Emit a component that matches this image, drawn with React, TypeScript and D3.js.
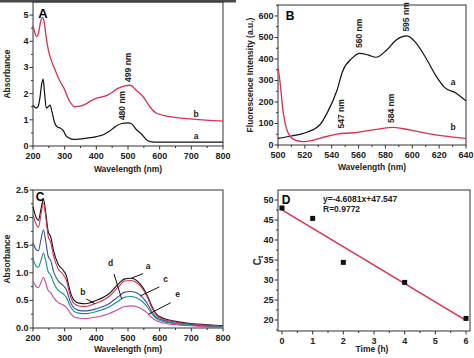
import { scaleLinear, line, curveMonotoneX, range } from "d3";

// Panel A – UV-vis absorbance
const nmA_a = [200, 210, 216, 222, 228, 232, 236, 242, 248, 254, 260, 268, 278, 286, 295, 305, 315, 327, 345, 370, 400, 420, 440, 460, 480, 500, 510, 527, 543, 559, 575, 590, 700, 800];
const absA_a = [1.55, 1.45, 1.5, 1.85, 2.4, 2.56, 2.1, 1.45, 1.5, 1.56, 1.3, 0.9, 0.72, 0.69, 0.6, 0.38, 0.3, 0.25, 0.26, 0.3, 0.36, 0.42, 0.55, 0.74, 0.86, 0.88, 0.86, 0.62, 0.45, 0.23, 0.16, 0.15, 0.15, 0.15];
const nmA_b = [200, 205, 212, 218, 224, 230, 235, 241, 248, 257, 270, 284, 298, 316, 332, 352, 395, 437, 468, 490, 508, 525, 548, 569, 590, 632, 705, 800];
const absA_b = [4.6, 4.35, 4.18, 4.35, 4.75, 4.9, 4.75, 4.2, 3.7, 3.3, 2.9, 2.5, 2.2, 1.7, 1.5, 1.53, 1.8, 1.95, 2.2, 2.3, 2.32, 2.14, 1.88, 1.5, 1.25, 1.12, 1.03, 0.95];

// Panel B – fluorescence
const nmB_a = [500, 510, 519, 531, 537, 544, 548, 555, 561, 567, 573, 581, 588, 596, 603, 611, 618, 624, 633, 640];
const flB_a = [31, 42, 54, 93, 154, 256, 341, 403, 426, 419, 408, 442, 488, 507, 473, 395, 318, 268, 240, 205];
const nmB_b = [500, 501, 504, 507.7, 512.7, 519, 531, 544, 556, 567, 573.5, 586, 598, 611, 623, 640];
const flB_b = [355, 318, 147, 54, 23, 16, 31, 51, 57, 67, 73, 82, 70, 54, 42, 30];

// Panel C – absorbance over time
const nmC = [200, 210, 217, 225, 233, 240, 248, 256, 265, 280, 295, 305, 318, 330, 345, 365, 400, 440, 470, 490, 510, 530, 545, 560, 575, 590, 610, 650, 700, 750, 800];
const absC_a = [2.2, 2.0, 1.95, 2.15, 2.33, 2.1, 1.75, 1.65, 1.4, 1.15, 1.05, 0.95, 0.65, 0.5, 0.45, 0.44, 0.5, 0.62, 0.8, 0.89, 0.9, 0.85, 0.75, 0.6, 0.4, 0.25, 0.18, 0.12, 0.08, 0.06, 0.04];
const absC_b = [2.05, 1.88, 1.82, 2.05, 2.27, 2.02, 1.66, 1.55, 1.3, 1.07, 0.97, 0.87, 0.58, 0.44, 0.4, 0.39, 0.45, 0.57, 0.75, 0.85, 0.86, 0.81, 0.72, 0.57, 0.37, 0.23, 0.16, 0.11, 0.07, 0.05, 0.03];
const absC_c = [1.55, 1.42, 1.4, 1.6, 1.78, 1.58, 1.3, 1.22, 1.02, 0.85, 0.77, 0.7, 0.47, 0.36, 0.32, 0.31, 0.35, 0.44, 0.57, 0.65, 0.66, 0.63, 0.56, 0.45, 0.3, 0.19, 0.14, 0.09, 0.06, 0.04, 0.02];
const absC_d = [1.25, 1.12, 1.1, 1.22, 1.36, 1.22, 1.02, 0.96, 0.82, 0.68, 0.62, 0.56, 0.39, 0.3, 0.27, 0.26, 0.3, 0.38, 0.49, 0.56, 0.57, 0.54, 0.48, 0.39, 0.26, 0.17, 0.12, 0.08, 0.05, 0.03, 0.02];
const absC_e = [0.85, 0.75, 0.73, 0.82, 0.92, 0.82, 0.68, 0.64, 0.55, 0.46, 0.42, 0.38, 0.27, 0.2, 0.18, 0.17, 0.2, 0.26, 0.34, 0.39, 0.4, 0.38, 0.34, 0.28, 0.19, 0.13, 0.09, 0.06, 0.04, 0.02, 0.01];
const seriesC = ["a", "b", "c", "d", "e"];
const arrowNmC = [510, 395, 540, 480, 565];

// Panel D – C_t vs time
const timeD = [0, 1, 2, 4, 6];
const ctD = [48, 45.4, 34.4, 29.4, 20.4];
const slope = -4.6081;
const intercept = 47.547;

const RED = "#dc2f4f";
const colorsC = ["#111", "#d9304a", "#3a4ea6", "#15918a", "#c54aa3"];
const FONT = "'Liberation Sans', Arial, sans-serif";

type Box = { l: number; r: number; t: number; b: number };

function Frame({ box, x, y, xTicks, yTicks, xMinor, yMinor, fmtY }: any) {
  return (
    <g fontFamily={FONT} fontSize={9} fontWeight="bold" fill="#222">
      <rect x={box.l} y={box.t} width={box.r - box.l} height={box.b - box.t} fill="none" stroke="#333" strokeWidth={1} />
      {xMinor.map((v: number) => (
        <line key={"xm" + v} x1={x(v)} x2={x(v)} y1={box.b} y2={box.b + 2} stroke="#333" />
      ))}
      {yMinor.map((v: number) => (
        <line key={"ym" + v} x1={box.l - 2} x2={box.l} y1={y(v)} y2={y(v)} stroke="#333" />
      ))}
      {xTicks.map((v: number) => (
        <g key={"x" + v}>
          <line x1={x(v)} x2={x(v)} y1={box.b} y2={box.b + 3.5} stroke="#333" />
          <text x={x(v)} y={box.b + 12.5} textAnchor="middle">{v}</text>
        </g>
      ))}
      {yTicks.map((v: number) => (
        <g key={"y" + v}>
          <line x1={box.l - 3.5} x2={box.l} y1={y(v)} y2={y(v)} stroke="#333" />
          <text x={box.l - 4.5} y={y(v) + 3} textAnchor="end">{fmtY ? fmtY(v) : v}</text>
        </g>
      ))}
    </g>
  );
}

function VLabel({ x, y, text }: { x: number; y: number; text: string }) {
  return (
    <text transform={`translate(${x},${y}) rotate(-90)`} textAnchor="middle" dominantBaseline="central"
      fontFamily={FONT} fontSize={8.5} fontWeight="bold" fill="#222">{text}</text>
  );
}

function interp(xs: number[], ys: number[], v: number) {
  for (let i = 0; i < xs.length - 1; i++) {
    if (v >= xs[i] && v <= xs[i + 1]) {
      const f = (v - xs[i]) / (xs[i + 1] - xs[i]);
      return ys[i] + f * (ys[i + 1] - ys[i]);
    }
  }
  return ys[ys.length - 1];
}

export default function App() {
  // ---- A
  const bA: Box = { l: 33, r: 223, t: 2, b: 146 };
  const xA = scaleLinear().domain([200, 800]).range([bA.l, bA.r]);
  const yA = scaleLinear().domain([0, 5.5]).range([bA.b, bA.t]);
  const lA = (xs: number[], ys: number[]) =>
    line<number>().x((_, i) => xA(xs[i])).y((d) => yA(d)).curve(curveMonotoneX)(ys) || "";

  // ---- B
  const bB: Box = { l: 278, r: 466, t: 5, b: 145 };
  const xB = scaleLinear().domain([500, 640]).range([bB.l, bB.r]);
  const yB = scaleLinear().domain([0, 651]).range([bB.b, bB.t]);
  const lB = (xs: number[], ys: number[]) =>
    line<number>().x((_, i) => xB(xs[i])).y((d) => yB(d)).curve(curveMonotoneX)(ys) || "";

  // ---- C
  const bC: Box = { l: 33, r: 223, t: 190, b: 328 };
  const xC = scaleLinear().domain([200, 800]).range([bC.l, bC.r]);
  const yC = scaleLinear().domain([0, 2.5]).range([bC.b, bC.t]);
  const lC = line<number>().x((_, i) => xC(nmC[i])).y((d) => yC(d)).curve(curveMonotoneX);
  const dataC = [absC_a, absC_b, absC_c, absC_d, absC_e];
  const labelOffC = [[14, -9], [-10, -9], [22, -14], [-9, -33], [26, -17]];

  // ---- D
  const bD: Box = { l: 278, r: 470, t: 190, b: 331 };
  const xD = scaleLinear().domain([-0.13, 6.13]).range([bD.l, bD.r]);
  const yD = scaleLinear().domain([17.25, 52.5]).range([bD.b, bD.t]);

  const ann = { fontFamily: FONT, fontSize: 8.5, fontWeight: "bold", fill: "#222" } as const;

  return (
    <svg width={474} height={358} style={{ position: "absolute", left: 0, top: 0, background: "#fff" }}>
      {/* crop edge band above panel A */}
      <rect x={0} y={0} width={236} height={2.5} fill="#4a4a4a" />

      {/* Panel A */}
      <Frame box={bA} x={xA} y={yA} xTicks={range(200, 801, 100)} yTicks={range(0, 6)}
        xMinor={range(250, 800, 100)} yMinor={range(0.5, 5.5, 1)} />
      <path d={lA(nmA_b, absA_b)} fill="none" stroke={RED} strokeWidth={1.3} />
      <path d={lA(nmA_a, absA_a)} fill="none" stroke="#111" strokeWidth={1.2} />
      <text x={43} y={18} textAnchor="middle" fontFamily={FONT} fontSize={13} fontWeight="bold">A</text>
      <VLabel x={xA(480)} y={yA(0.86) - 18} text="480 nm" />
      <VLabel x={xA(499)} y={yA(2.32) - 18} text="499 nm" />
      <text x={196} y={117} textAnchor="middle" {...ann}>b</text>
      <text x={196} y={139} textAnchor="middle" {...ann}>a</text>
      <VLabel x={7} y={(bA.t + bA.b) / 2} text="Absorbance" />
      <text x={(bA.l + bA.r) / 2} y={172} textAnchor="middle" {...ann}>Wavelength (nm)</text>

      {/* Panel B */}
      <Frame box={bB} x={xB} y={yB} xTicks={range(500, 641, 20)} yTicks={range(0, 601, 100)}
        xMinor={range(510, 640, 20)} yMinor={range(50, 651, 100)} />
      <path d={lB(nmB_a, flB_a)} fill="none" stroke="#111" strokeWidth={1.2} />
      <path d={lB(nmB_b, flB_b)} fill="none" stroke={RED} strokeWidth={1.3} />
      <text x={290} y={20} textAnchor="middle" fontFamily={FONT} fontSize={12} fontWeight="bold">B</text>
      <VLabel x={xB(560)} y={yB(426) - 20} text="560 nm" />
      <VLabel x={xB(595)} y={yB(507) - 19} text="595 nm" />
      <VLabel x={xB(547)} y={yB(52) - 20} text="547 nm" />
      <VLabel x={xB(584)} y={yB(82) - 19} text="584 nm" />
      <text x={453} y={85} textAnchor="middle" {...ann}>a</text>
      <text x={453} y={130} textAnchor="middle" {...ann}>b</text>
      <VLabel x={250} y={(bB.t + bB.b) / 2} text="Fluorescence Intensity (a.u.)" />
      <text x={(bB.l + bB.r) / 2} y={170} textAnchor="middle" {...ann}>Wavelength (nm)</text>

      {/* Panel C */}
      <Frame box={bC} x={xC} y={yC} xTicks={range(200, 801, 100)} yTicks={range(0, 2.51, 0.5)}
        xMinor={range(250, 800, 100)} yMinor={range(0.25, 2.5, 0.5)} fmtY={(v: number) => v.toFixed(1)} />
      {dataC.map((d, i) => (
        <path key={i} d={lC(d) || ""} fill="none" stroke={colorsC[i]} strokeWidth={1.1} />
      ))}
      {seriesC.map((s, i) => {
        const tx = xC(arrowNmC[i]);
        const ty = yC(interp(nmC, dataC[i], arrowNmC[i]));
        const [dx, dy] = labelOffC[i];
        return (
          <g key={s}>
            <line x1={tx} y1={ty} x2={tx + dx * 0.85} y2={ty + dy * 0.85 + 3} stroke="#111" strokeWidth={1} />
            <text x={tx + dx + (dx > 0 ? 3 : -2)} y={ty + dy} textAnchor="middle" {...ann}>{s}</text>
          </g>
        );
      })}
      <text x={40} y={201} textAnchor="middle" fontFamily={FONT} fontSize={12} fontWeight="bold">C</text>
      <VLabel x={7} y={(bC.t + bC.b) / 2} text="Absorbance" />
      <text x={(bC.l + bC.r) / 2} y={352} textAnchor="middle" {...ann}>Wavelength (nm)</text>

      {/* Panel D */}
      <Frame box={bD} x={xD} y={yD} xTicks={range(0, 7)} yTicks={range(20, 51, 5)}
        xMinor={range(0.5, 6.1, 1)} yMinor={range(17.5, 52.5, 5)} />
      <line x1={xD(0)} y1={yD(intercept)} x2={xD(6)} y2={yD(intercept + slope * 6)} stroke={RED} strokeWidth={1.5} />
      {timeD.map((t, i) => (
        <rect key={t} x={xD(t) - 2.5} y={yD(ctD[i]) - 2.5} width={5} height={5} fill="#111" />
      ))}
      <text x={286} y={204} textAnchor="middle" fontFamily={FONT} fontSize={12} fontWeight="bold">D</text>
      <text x={323} y={202} {...ann}>y=-4.6081x+47.547</text>
      <text x={323} y={212} {...ann}>R=0.9772</text>
      <text transform={`translate(257,${(bD.t + bD.b) / 2}) rotate(-90)`} textAnchor="middle" dominantBaseline="central"
        fontFamily={FONT} fontSize={10} fontWeight="bold" fill="#222">
        C<tspan fontSize={7} dy={2.5}>t</tspan>
      </text>
      <text x={372} y={352} textAnchor="middle" {...ann}>Time (h)</text>
    </svg>
  );
}
